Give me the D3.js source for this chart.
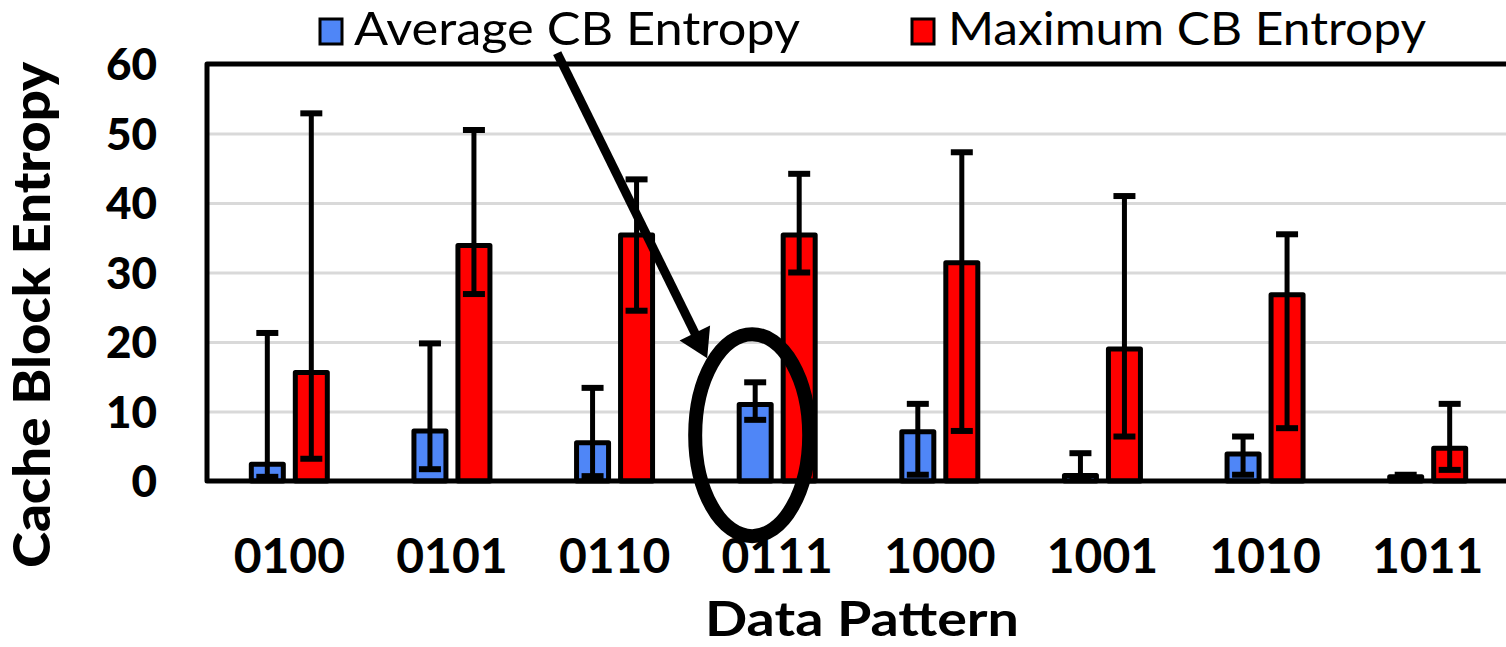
<!DOCTYPE html>
<html>
<head>
<meta charset="utf-8">
<script src="https://cdn.jsdelivr.net/npm/d3@7"></script>
<style>
  html, body { margin: 0; padding: 0; background: #fff; }
  svg { display: block; }
</style>
</head>
<body>
<svg id="chart" width="1506" height="647"></svg>
<script>
// Cache block entropy per data pattern: bar = value, whisker = [low, high]
const categories = ["0100", "0101", "0110", "0111", "1000", "1001", "1010", "1011"];
const seriesNames = ["Average CB Entropy", "Maximum CB Entropy"];

const avgEntropy = [2.4, 7.2, 5.5, 11.0, 7.1, 0.8, 3.9, 0.6];
const avgLow     = [0.6, 1.7, 0.7, 8.8, 0.9, 0.2, 0.9, 0.2];
const avgHigh    = [21.3, 19.8, 13.4, 14.2, 11.1, 4.0, 6.4, 0.9];

const maxEntropy = [15.6, 33.9, 35.4, 35.4, 31.4, 19.0, 26.8, 4.7];
const maxLow     = [3.2, 26.9, 24.5, 30.0, 7.2, 6.4, 7.6, 1.6];
const maxHigh    = [52.9, 50.5, 43.4, 44.2, 47.3, 41.0, 35.5, 11.1];

const yTicks = [0, 10, 20, 30, 40, 50, 60];
const highlightCategory = "0111";
const highlightCenterValue = 6.6;

const colors = { avg: "#4f86f7", max: "#ff0000" };
const FONT = "Lato, 'Open Sans', 'DejaVu Sans', sans-serif";

const svg = d3.select("#chart");

const plotLeft = 207, plotRight = 1512;
const x0 = d3.scaleBand().domain(categories).range([208, 1509]);
const bw = x0.bandwidth();
const x1 = d3.scaleBand().domain(["avg", "max"])
  .range([bw / 2 - 44, bw / 2 + 44])
  .paddingInner(0.2727).paddingOuter(0.1364);
const y = d3.scaleLinear().domain([0, 60]).range([481, 64]);

// gridlines
svg.append("g")
  .attr("transform", `translate(${plotLeft},0)`)
  .call(d3.axisLeft(y).tickValues(yTicks.filter(t => t > 0 && t < 60))
    .tickSize(-(plotRight - plotLeft)).tickFormat(""))
  .call(g => g.select(".domain").remove())
  .call(g => g.selectAll("line").attr("stroke", "#d9d9d9").attr("stroke-width", 3));

// y tick labels
svg.append("g")
  .attr("transform", "translate(157,0)")
  .call(d3.axisLeft(y).tickValues(yTicks).tickSize(0).tickPadding(0).tickFormat(d3.format("d")))
  .call(g => g.select(".domain").remove())
  .call(g => g.selectAll("text")
    .attr("x", 0).attr("dy", "0.36em")
    .attr("font-family", FONT).attr("font-weight", 900).attr("font-size", 44)
    .attr("fill", "#000"));

// rows of bar data
const rows = categories.map((c, i) => ({
  cat: c,
  bars: [
    { key: "avg", value: avgEntropy[i], lo: avgLow[i], hi: avgHigh[i] },
    { key: "max", value: maxEntropy[i], lo: maxLow[i], hi: maxHigh[i] }
  ]
}));

const groups = svg.append("g").selectAll("g").data(rows).join("g")
  .attr("transform", d => `translate(${x0(d.cat)},0)`);

groups.selectAll("rect").data(d => d.bars).join("rect")
  .attr("x", d => x1(d.key))
  .attr("width", x1.bandwidth())
  .attr("y", d => y(d.value))
  .attr("height", d => y(0) - y(d.value))
  .attr("fill", d => colors[d.key])
  .attr("stroke", "#000")
  .attr("stroke-width", 5)
  .attr("stroke-linejoin", "round");

// error bars
const capHalf = 11;
const err = groups.selectAll("g.err").data(d => d.bars).join("g").attr("class", "err")
  .attr("transform", d => `translate(${x1(d.key) + x1.bandwidth() / 2},0)`);
err.append("line")
  .attr("x1", 0).attr("x2", 0)
  .attr("y1", d => y(d.lo)).attr("y2", d => y(d.hi))
  .attr("stroke", "#000").attr("stroke-width", 5);
err.append("line")
  .attr("x1", -capHalf).attr("x2", capHalf)
  .attr("y1", d => y(d.hi)).attr("y2", d => y(d.hi))
  .attr("stroke", "#000").attr("stroke-width", 6);
err.append("line")
  .attr("x1", -capHalf).attr("x2", capHalf)
  .attr("y1", d => y(d.lo)).attr("y2", d => y(d.lo))
  .attr("stroke", "#000").attr("stroke-width", 6);

// plot frame (top, left, bottom)
svg.append("path")
  .attr("d", `M${plotRight},${y(60)} H${plotLeft} V${y(0)} H${plotRight}`)
  .attr("fill", "none").attr("stroke", "#000").attr("stroke-width", 5)
  .attr("stroke-linejoin", "round");

// x tick labels
svg.append("g")
  .attr("transform", "translate(0,573)")
  .call(d3.axisBottom(x0).tickSize(0).tickPadding(0))
  .call(g => g.select(".domain").remove())
  .call(g => g.selectAll("text")
    .attr("y", 0).attr("dy", 0)
    .attr("font-family", FONT).attr("font-weight", 700).attr("font-size", 48)
    .attr("fill", "#000"));

// axis titles
svg.append("text")
  .attr("x", 862).attr("y", 636)
  .attr("text-anchor", "middle")
  .attr("font-family", FONT).attr("font-weight", 700).attr("font-size", 48)
  .attr("textLength", 314).attr("lengthAdjust", "spacingAndGlyphs")
  .text("Data Pattern");

svg.append("text")
  .attr("transform", "translate(50,315) rotate(-90)")
  .attr("text-anchor", "middle")
  .attr("font-family", FONT).attr("font-weight", 900).attr("font-size", 52)
  .attr("textLength", 506).attr("lengthAdjust", "spacingAndGlyphs")
  .text("Cache Block Entropy");

// legend
const legendItems = [
  { key: "avg", name: seriesNames[0], sx: 320, tx: 354, tw: 446 },
  { key: "max", name: seriesNames[1], sx: 912, tx: 948, tw: 478 }
];
const leg = svg.append("g").selectAll("g").data(legendItems).join("g");
leg.append("rect")
  .attr("x", d => d.sx).attr("y", 19).attr("width", 22).attr("height", 25)
  .attr("fill", d => colors[d.key]).attr("stroke", "#000").attr("stroke-width", 3);
leg.append("text")
  .attr("x", d => d.tx).attr("y", 45)
  .attr("font-family", FONT).attr("font-weight", 400).attr("font-size", 46)
  .attr("textLength", d => d.tw).attr("lengthAdjust", "spacingAndGlyphs")
  .text(d => d.name);

// highlight: ellipse around the average bar of the highlighted pattern, plus arrow
const cx = x0(highlightCategory) + x1("avg") + x1.bandwidth() / 2 - 3;
const cy = y(highlightCenterValue);
svg.append("ellipse")
  .attr("cx", cx).attr("cy", cy).attr("rx", 57).attr("ry", 101)
  .attr("fill", "none").attr("stroke", "#000").attr("stroke-width", 14);

const tail = [cx - 195, cy - 382];
const tip = [cx - 45, cy - 77];
const dx = tip[0] - tail[0], dy = tip[1] - tail[1];
const len = Math.hypot(dx, dy);
const ux = dx / len, uy = dy / len;
const headLen = 28, headHalf = 17;
const base = [tip[0] - ux * headLen, tip[1] - uy * headLen];
svg.append("line")
  .attr("x1", tail[0]).attr("y1", tail[1])
  .attr("x2", base[0] + ux * 2).attr("y2", base[1] + uy * 2)
  .attr("stroke", "#000").attr("stroke-width", 9);
svg.append("path")
  .attr("d", `M${tip[0]},${tip[1]} L${base[0] - uy * headHalf},${base[1] + ux * headHalf} L${base[0] + uy * headHalf},${base[1] - ux * headHalf} Z`)
  .attr("fill", "#000");
</script>
</body>
</html>
